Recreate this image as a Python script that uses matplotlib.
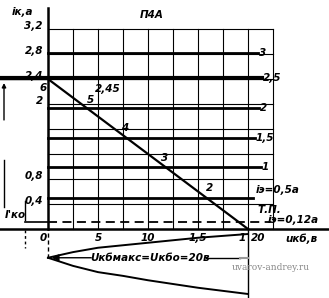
import numpy as np
import matplotlib
matplotlib.use('Agg')
import matplotlib.pyplot as plt

# collector current curves (base current labels on the right)
curve_labels = ['3', '2,5', '2', '1,5', '1']
curve_ic = [2.82, 2.41, 1.94, 1.46, 1.0]
curve_end = [21.0, 21.4, 21.1, 20.7, 21.3]

# emitter current lines
ie05_ic = 0.50
ie012_ic = 0.12

# load line from (0, 2.4) to (20, 0)
load_u = [0.0, 20.0]
load_i = [2.4, 0.0]
load_pts = ['5', '4', '3', '2']
load_pts_u = [4.2, 7.7, 11.7, 16.2]
load_pts_i = [2.06, 1.62, 1.14, 0.66]

# lens shaped region below the axis
lens_u = [0, 2.5, 5, 7.5, 10, 12.5, 15, 17.5, 20]
lens_up = [-0.46, -0.37, -0.30, -0.26, -0.22, -0.18, -0.14, -0.11, -0.08]
lens_lo = [-0.46, -0.59, -0.69, -0.75, -0.82, -0.88, -0.94, -0.99, -1.04]

yticks = [3.2, 2.8, 2.4, 2.0, 0.8, 0.4]
ytick_labels = ['3,2', '2,8', '2,4', '2', '0,8', '0,4']
xticks = [0, 5, 10, 15, 20]
xtick_labels = ['0', '5', '10', '1,5', '20']

fig = plt.figure(figsize=(3.29, 2.98), dpi=100)
ax = fig.add_axes([0, 0, 1, 1])
ax.set_xlim(-4.8, 28.1)
ax.set_ylim(-1.104, 3.664)
ax.axis('off')

fs = 7.5
font = dict(fontsize=fs, fontstyle='italic', fontweight='bold', color='black')

# grid
for gx in np.arange(2.5, 22.6, 2.5):
    ax.plot([gx, gx], [0, 3.2], color='black', lw=0.8)
for gy in np.arange(0.4, 3.21, 0.4):
    ax.plot([0, 22.5], [gy, gy], color='black', lw=0.8)

# axes
ax.plot([0, 0], [0, 3.54], color='black', lw=1.8)
ax.plot([0, 0], [-0.46, 0], color='black', lw=1.0, ls=(0, (3, 2)))
ax.plot([-4.8, 28.0], [0, 0], color='black', lw=1.8)

# curves
for lab, ic, xe in zip(curve_labels, curve_ic, curve_end):
    lw = 3.0 if lab == '2,5' else 2.0
    xs = -4.8 if lab == '2,5' else 0
    ax.plot([xs, xe], [ic, ic], color='black', lw=lw)
    ax.text(xe + 0.1, ic, lab, ha='left', va='center', **font)

ax.plot([0, 20.5], [ie05_ic, ie05_ic], color='black', lw=2.0)
ax.text(20.8, ie05_ic + 0.12, 'iэ=0,5а', ha='left', va='center', **font)
ax.plot([-2.3, 0], [ie012_ic, ie012_ic], color='black', lw=1.2)
ax.plot([0, 22.3], [ie012_ic, ie012_ic], color='black', lw=1.3, ls=(0, (5, 3)))
ax.text(22.0, ie012_ic + 0.02, 'iэ=0,12а', ha='left', va='center', **font)
ax.text(20.9, 0.30, 'Т.П.', ha='left', va='center', **font)

# load line
ax.plot(load_u, load_i, color='black', lw=1.6)
for lab, u, i in zip(load_pts, load_pts_u, load_pts_i):
    ax.text(u, i, lab, ha='center', va='center', **font)
ax.text(-0.5, 2.26, '6', ha='center', va='center', **font)
ax.text(4.7, 2.24, '2,45', ha='left', va='center', **font)

# tick labels
for t, lab in zip(yticks, ytick_labels):
    ax.text(-0.5, t + 0.05, lab, ha='right', va='center', **font)
for t, lab in zip(xticks, xtick_labels):
    off = 1.0 if t == 20 else -0.5 if t == 0 else 0
    ax.text(t + off, -0.14, lab, ha='center', va='center', **font)
ax.text(19.4, -0.14, '1', ha='center', va='center', **font)

# axis labels and title
ax.text(-3.6, 3.47, 'iк,а', ha='left', va='center', **font)
ax.text(23.7, -0.16, 'uкб,в', ha='left', va='center', **font)
ax.text(10.4, 3.42, 'П4А', ha='center', va='center', **font)

# lens region and max voltage arrow
ax.plot(lens_u, lens_up, color='black', lw=1.4)
ax.plot(lens_u, lens_lo, color='black', lw=1.4)
ax.plot([20, 20], [0, -1.104], color='black', lw=1.0)
ax.annotate('', xy=(0.1, -0.46), xytext=(4.6, -0.46),
            arrowprops=dict(arrowstyle='-|>', color='black', lw=1.0))
ax.text(10.2, -0.46, 'Uкбмакс=Uкбо=20в', ha='center', va='center', **font)
ax.plot([15.8, 19.2], [-0.46, -0.46], color='black', lw=1.0)
ax.plot([19.2, 20], [-0.46, -0.46], color='#999999', lw=1.5)

# left dimension marks
ax.plot([-4.8, 0], [2.4, 2.4], color='black', lw=1.0)
ax.annotate('', xy=(-4.4, 2.38), xytext=(-4.4, 1.7),
            arrowprops=dict(arrowstyle='-|>', color='black', lw=1.0, mutation_scale=6))
ax.plot([-4.4, -4.4], [1.1, 0.35], color='black', lw=1.0)
ax.plot([-2.3, -2.3], [0.45, 0.14], color='black', lw=1.0)
ax.plot([-2.3, -2.3], [-0.02, -0.3], color='black', lw=1.0, ls=(0, (2, 2)))
ax.text(-4.3, 0.22, "I'ко", ha='left', va='center', **font)

# watermark
ax.text(22.3, -0.62, 'uvarov-andrey.ru', ha='center', va='center',
        fontsize=6.5, family='DejaVu Serif', color='#888888')

plt.savefig('out.png', dpi=100)
